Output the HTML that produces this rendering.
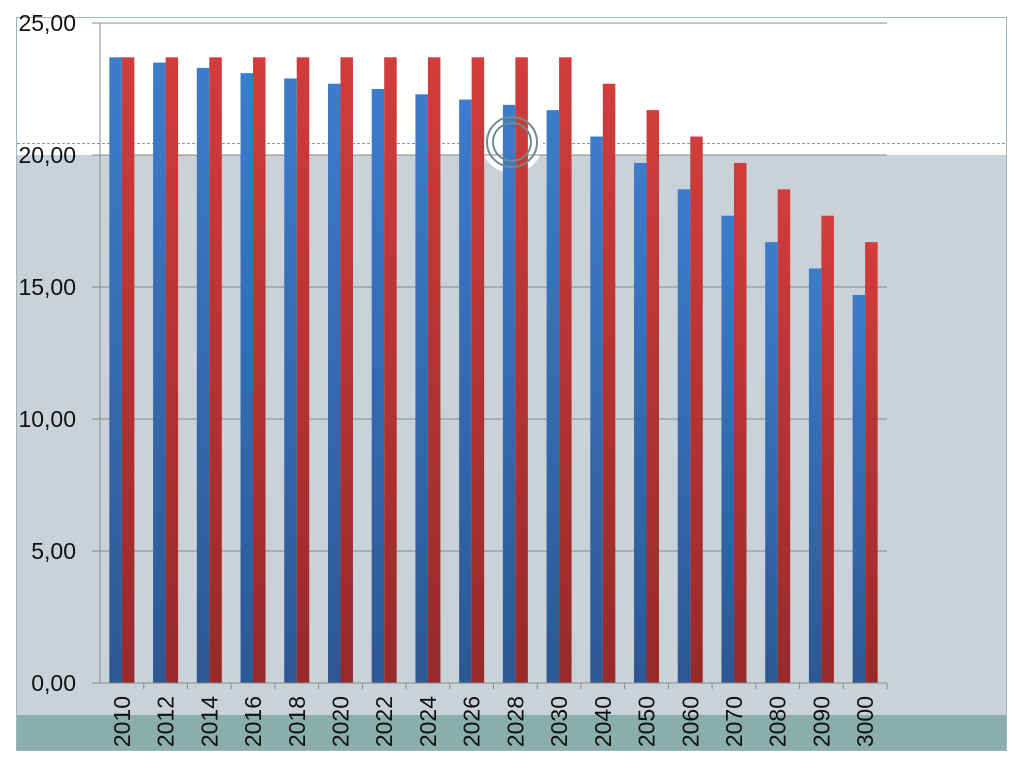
<!DOCTYPE html>
<html><head><meta charset="utf-8"><style>
html,body{margin:0;padding:0;background:#fff;}
svg{display:block;font-family:"Liberation Sans",sans-serif;}
</style></head><body>
<svg id="chart" width="1024" height="768" viewBox="0 0 1024 768">
<defs>
<linearGradient id="gb" x1="0" y1="0" x2="0" y2="1"><stop offset="0" stop-color="#3d7ccc"/><stop offset="1" stop-color="#2c5894"/></linearGradient>
<linearGradient id="gr" x1="0" y1="0" x2="0" y2="1"><stop offset="0" stop-color="#d23c3c"/><stop offset="1" stop-color="#972a2a"/></linearGradient>
</defs>
<rect x="17" y="155" width="990" height="560" fill="#c8d2d8"/>
<rect x="17" y="715" width="990" height="35" fill="#8aaeaa"/>
<rect x="16.5" y="17.5" width="990" height="733" fill="none" stroke="#9fb3c0" stroke-width="1"/>
<line x1="17" y1="143.5" x2="1007" y2="143.5" stroke="#7e9cac" stroke-dasharray="3,2"/>
<circle cx="512" cy="142" r="31" fill="#fff"/>
<g id="grid"></g>
<g id="bars"></g>
<circle cx="512" cy="142" r="25" fill="none" stroke="#708c8c" stroke-width="2"/>
<circle cx="512" cy="142" r="19" fill="none" stroke="#708c8c" stroke-width="2"/>
<g id="axes"></g>
</svg>
<script>
const categories=["2010","2012","2014","2016","2018","2020","2022","2024","2026","2028","2030","2040","2050","2060","2070","2080","2090","3000"];
const blueValues=[23.7,23.5,23.3,23.1,22.9,22.7,22.5,22.3,22.1,21.9,21.7,20.7,19.7,18.7,17.7,16.7,15.7,14.7];
const redValues=[23.7,23.7,23.7,23.7,23.7,23.7,23.7,23.7,23.7,23.7,23.7,22.7,21.7,20.7,19.7,18.7,17.7,16.7];
const yTicks=[0,5,10,15,20,25];
const yTickLabels=["0,00","5,00","10,00","15,00","20,00","25,00"];
const NS="http://www.w3.org/2000/svg";
const X0=100,X1=887,Y0=683,Y1=23,YMAX=25;
const y=v=>Y0-(v/YMAX)*(Y0-Y1);
const bw=(X1-X0)/categories.length;
const xc=i=>X0+bw*(i+0.5);
function mk(t,a,p){const e=document.createElementNS(NS,t);for(const k in a)e.setAttribute(k,a[k]);p.appendChild(e);return e;}
const grid=document.getElementById('grid'),bars=document.getElementById('bars'),axes=document.getElementById('axes');
yTicks.forEach((t,i)=>{
  const l=mk('line',{x1:X0-8,x2:X1,y1:y(t),y2:y(t),stroke:'#8a8a8a','stroke-width':1},grid);
  
  
  const tx=mk('text',{x:76,y:y(t)+8,'text-anchor':'end','font-size':23,fill:'#111'},axes);
  tx.textContent=yTickLabels[i];
  
  
});
const ax=mk('line',{x1:X0,x2:X0,y1:Y1,y2:Y0,stroke:'#8a8a8a'},axes);


const bwBar=12.5;
categories.forEach((c,i)=>{
  const cx=xc(i);
  const b=mk('rect',{x:cx-bwBar,y:y(blueValues[i]),width:bwBar,height:Y0-y(blueValues[i]),fill:'url(#gb)'},bars);
  
  
  const r=mk('rect',{x:cx,y:y(redValues[i]),width:bwBar,height:Y0-y(redValues[i]),fill:'url(#gr)'},bars);
  
  
  const tk=mk('line',{x1:X0+bw*(i+1),x2:X0+bw*(i+1),y1:Y0,y2:Y0+6,stroke:'#8a8a8a'},axes);
  
  
  const t=mk('text',{x:0,y:0,'text-anchor':'end','font-size':23,fill:'#111',transform:`translate(${cx+8},696) rotate(-90)`},axes);
  t.textContent=c;
  
  
});
const xa=mk('line',{x1:X0-8,x2:X1,y1:Y0,y2:Y0,stroke:'#8a8a8a'},axes);


</script>
</body></html>
